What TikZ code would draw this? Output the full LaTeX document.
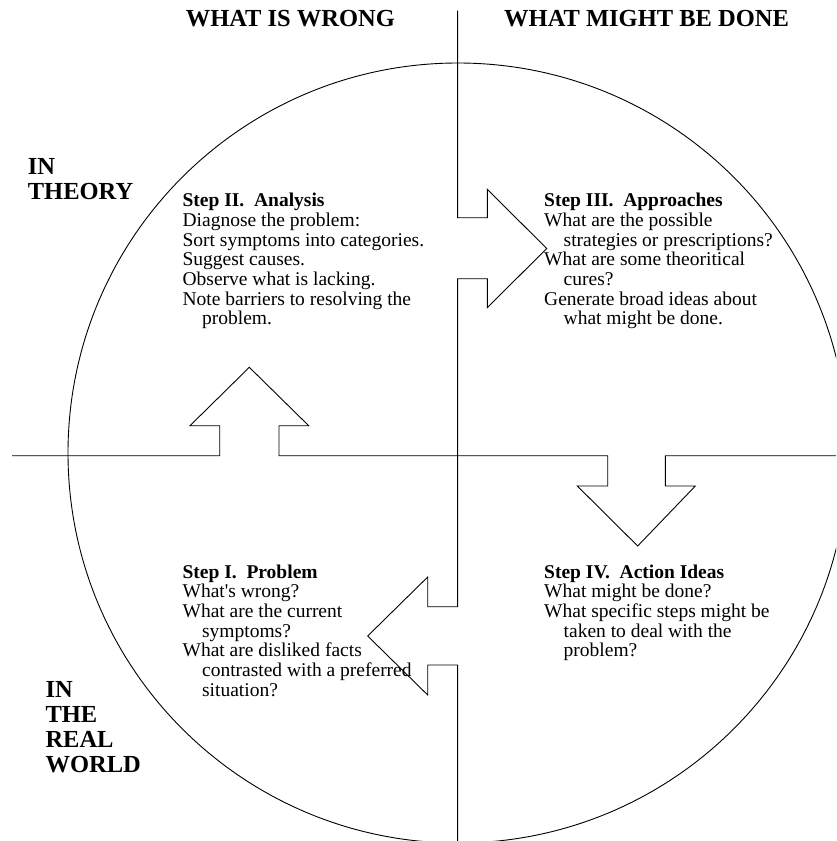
\documentclass[tikz,border=0pt]{standalone}
\usepackage{fontspec}
\setmainfont{Liberation Serif}
\newcommand{\stepblock}[1]{\begin{tabular}[t]{@{}l@{}}#1\end{tabular}}
\newcommand{\ind}{\hspace*{19.5pt}}
\newcommand{\bodysize}{\fontsize{19.5}{19.7}\selectfont}
% straight apostrophe, set as a glyph so the TeX quote mapping leaves it alone
\newcommand{\sq}{\XeTeXglyph\XeTeXglyphindex "quotesingle"\relax}
\begin{document}
\begin{tikzpicture}[x=1pt,y=-1pt,
  outline/.style={draw=black,line width=0.9pt,line join=miter},
  heading/.style={inner sep=0pt,anchor=base west,font=\fontsize{24.5}{25}\selectfont\bfseries},
  body/.style={inner sep=0pt,anchor=base west,font=\bodysize}]
\useasboundingbox (0,0) rectangle (836,841);
\fill[white] (0,0) rectangle (836,841);

% the big circle, cut off by the page edge
\begin{scope}
  \clip (0,0) rectangle (836,841);
  \draw[outline] (458,453) circle[radius=390];
\end{scope}

% horizontal axis with the up arrow (I -> II) and the down arrow (III -> IV)
\draw[outline] (12,455.7) -- (219.7,455.7) -- (219.7,425.7) -- (190,425.7)
  -- (249.3,367.3) -- (308.7,425.7) -- (279,425.7) -- (279,455.7)
  -- (607.7,455.7) -- (607.7,486) -- (577.3,486) -- (637.7,546)
  -- (695.3,486) -- (665.3,486) -- (665.3,455.7) -- (836,455.7);

% vertical axis with the right arrow (II -> III) and the left arrow (IV -> I)
\draw[outline] (457.6,10.7) -- (457.6,217.7) -- (487.3,217.7) -- (487.3,189.3)
  -- (546.7,248.5) -- (487.3,307.7) -- (487.3,278.7) -- (457.6,278.7)
  -- (457.6,606.7) -- (427.7,606.7) -- (427.7,577) -- (367.7,636)
  -- (427.7,695) -- (427.7,665) -- (457.6,665) -- (457.6,841);

% column and row headings
\node[heading] (wrong) at (185.6,26) {WHAT IS WRONG};
\node[heading] (done) at (504,26) {WHAT MIGHT BE DONE};
\node[heading] (theory) at (27.7,174) {\stepblock{\fontsize{24.5}{25}\selectfont\bfseries IN\\ \fontsize{24.5}{25}\selectfont\bfseries THEORY}};
\node[heading] (real) at (45.3,697.3) {\stepblock{\fontsize{24.5}{23.5}\selectfont\bfseries IN\\ \fontsize{24.5}{23.5}\selectfont\bfseries THE\\ \fontsize{24.5}{23.5}\selectfont\bfseries REAL\\ \fontsize{24.5}{23.5}\selectfont\bfseries WORLD}};

% the four steps
\node[body] (analysis) at (182.4,206.7) {\bodysize\stepblock{%
  \textbf{Step II.\ \ Analysis}\\
  Diagnose the problem:\\
  Sort symptoms into categories.\\
  Suggest causes.\\
  Observe what is lacking.\\
  Note barriers to resolving the\\
  \ind problem.}};

\node[body] (approaches) at (544,206.7) {\bodysize\stepblock{%
  \textbf{Step III.\ \ Approaches}\\
  What are the possible\\
  \ind strategies or prescriptions?\\
  What are some theoritical\\
  \ind cures?\\
  Generate broad ideas about\\
  \ind what might be done.}};

\node[body] (problem) at (182.4,578) {\bodysize\stepblock{%
  \textbf{Step I.\ \ Problem}\\
  What\sq s wrong?\\
  What are the current\\
  \ind symptoms?\\
  What are disliked facts\\
  \ind contrasted with a preferred\\
  \ind situation?}};

\node[body] (action) at (544,578) {\bodysize\stepblock{%
  \textbf{Step IV.\ \ Action Ideas}\\
  What might be done?\\
  What specific steps might be\\
  \ind taken to deal with the\\
  \ind problem?}};
\end{tikzpicture}
\end{document}
